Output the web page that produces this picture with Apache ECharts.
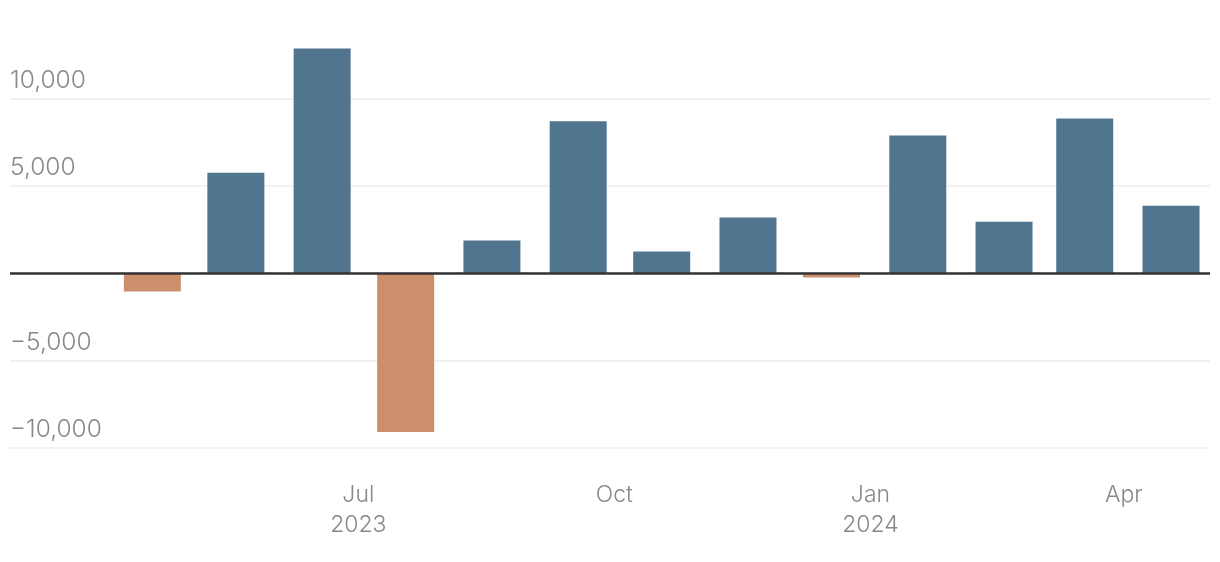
<!DOCTYPE html>
<html>
<head>
<meta charset="utf-8">
<script src="https://cdn.jsdelivr.net/npm/echarts@6/dist/echarts.min.js"></script>
<style>
  html, body { margin: 0; padding: 0; background: #fff; }
  #chart { width: 1220px; height: 562px; }
</style>
</head>
<body>
<div id="chart"></div>
<script>
// Data
const months = ['2023-04-01','2023-05-01','2023-06-01','2023-07-01','2023-08-01','2023-09-01','2023-10-01','2023-11-01','2023-12-01','2024-01-01','2024-02-01','2024-03-01','2024-04-01'];
const values = [-1050, 5750, 12850, -9080, 1870, 8700, 1240, 3190, -250, 7880, 2940, 8850, 3860];
const tickDates = ['2023-07-01','2023-10-01','2024-01-01','2024-04-01'];
const tickLabels = ['Jul\n2023','Oct','Jan\n2024','Apr'];
const yTicks = [-10000, -5000, 5000, 10000];
const yTickLabels = ['\u221210,000', '\u22125,000', '5,000', '10,000'];

const BLUE = '#52758f';
const ORANGE = '#cc8f6c';
const DAY = 86400000;
const BAR_OFFSET_DAYS = 17; // bars drawn inside each month, centred ~17 days after month start

function ts(s) { const p = s.split('-').map(Number); return Date.UTC(p[0], p[1]-1, p[2]); }

const barData = months.map((m, i) => ({
  value: [ts(m) + BAR_OFFSET_DAYS * DAY, values[i]],
  itemStyle: { color: values[i] < 0 ? ORANGE : BLUE }
}));

const tickTs = tickDates.map(ts);
const labelMap = {};
tickTs.forEach((t, i) => labelMap[t] = tickLabels[i]);
const yLabelMap = {};
yTicks.forEach((v, i) => yLabelMap[v] = yTickLabels[i]);

const chart = echarts.init(document.getElementById('chart'), null, { renderer: 'canvas' });
chart.setOption({
  animation: false,
  grid: { left: 10, right: 10, top: 46, bottom: 114, containLabel: false },
  xAxis: {
    type: 'value',
    min: ts('2023-02-26') - 0.15 * DAY,
    max: ts('2024-05-02'),
    axisLine: { show: false },
    axisTick: { show: false },
    splitLine: { show: false },
    axisLabel: {
      customValues: tickTs,
      formatter: function (v) { return labelMap[v] !== undefined ? labelMap[v] : ''; },
      color: '#888',
      fontFamily: 'Inter',
      fontWeight: 300,
      fontSize: 23,
      lineHeight: 30,
      margin: 32,
      hideOverlap: false
    }
  },
  yAxis: {
    type: 'value',
    min: -10000,
    max: 13000,
    interval: 5000,
    axisLine: { show: false },
    axisTick: { show: false },
    splitLine: { show: true, showMaxLine: false, lineStyle: { color: '#ececec', width: 1.5 } },
    axisLabel: {
      inside: true,
      showMaxLabel: false,
      formatter: function (v) { return yLabelMap[v] !== undefined ? yLabelMap[v] : ''; },
      color: '#888',
      fontFamily: 'Inter',
      fontWeight: 300,
      fontSize: 24.5,
      verticalAlign: 'bottom',
      align: 'left',
      lineHeight: 24,
      padding: [0, 0, 6, 0],
      margin: 0
    }
  },
  series: [{
    type: 'bar',
    data: barData,
    barWidth: 57,
    markLine: {
      silent: true,
      symbol: 'none',
      label: { show: false },
      lineStyle: { color: '#333', width: 2.5, type: 'solid' },
      data: [{ yAxis: 0 }]
    }
  }]
});
</script>
</body>
</html>
